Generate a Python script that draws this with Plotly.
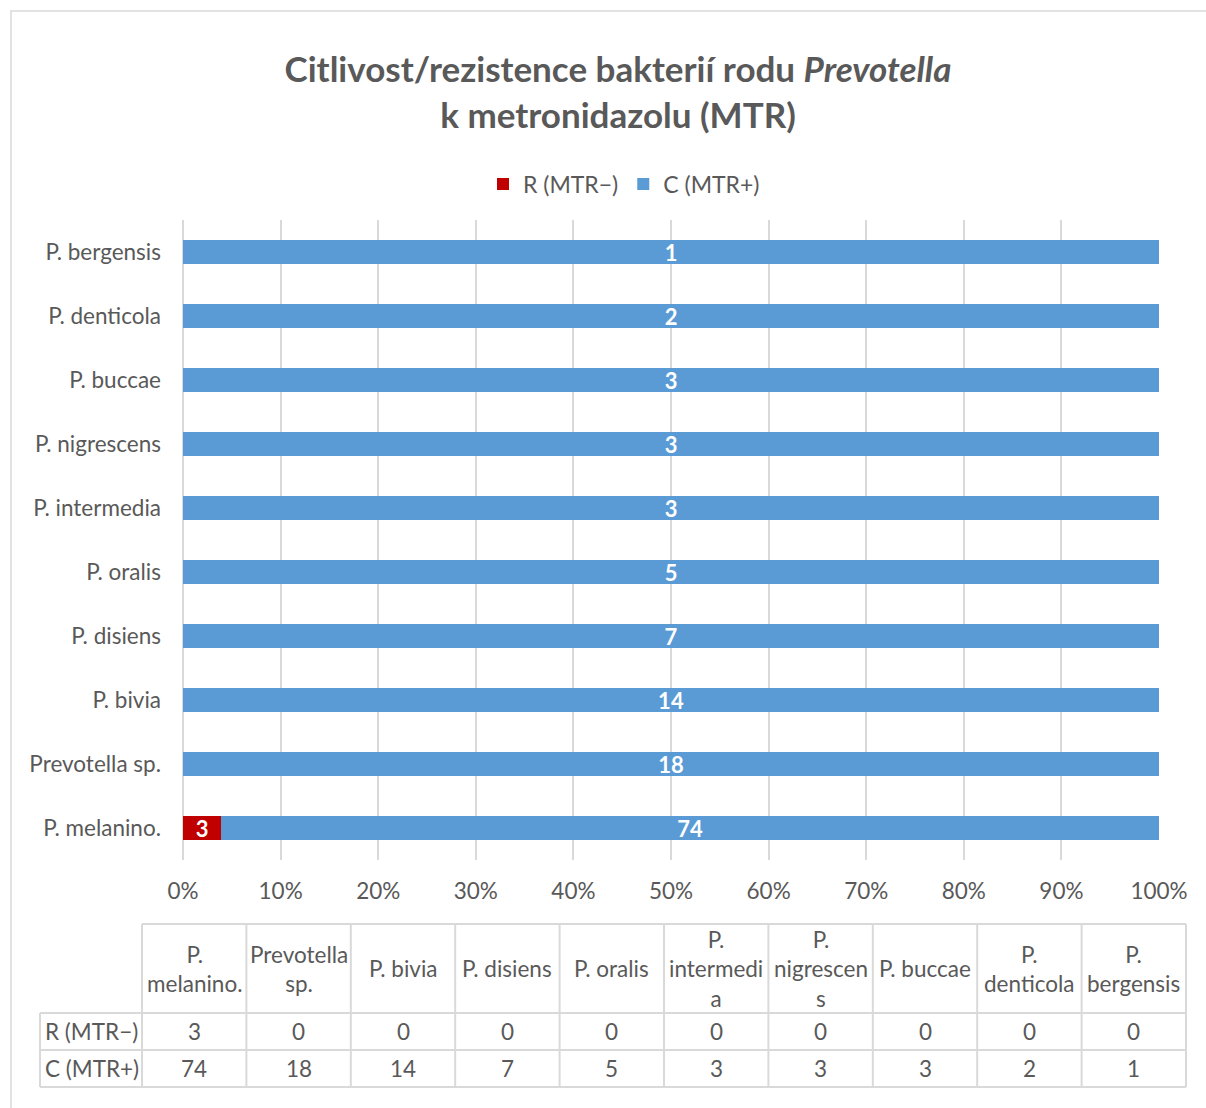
import plotly.graph_objects as go

# Species (bottom to top on the bar chart, left to right in the table)
species = [
    "P. melanino.", "Prevotella sp.", "P. bivia", "P. disiens", "P. oralis",
    "P. intermedia", "P. nigrescens", "P. buccae", "P. denticola", "P. bergensis",
]
# Wrapped column headers for the data table
table_headers = [
    "P.<br>melanino.", "Prevotella<br>sp.", "P. bivia", "P. disiens", "P. oralis",
    "P.<br>intermedi<br>a", "P.<br>nigrescen<br>s", "P. buccae", "P.<br>denticola",
    "P.<br>bergensis",
]
series_names = ["R (MTR\u2212)", "C (MTR+)"]
resistant = [3, 0, 0, 0, 0, 0, 0, 0, 0, 0]
sensitive = [74, 18, 14, 7, 5, 3, 3, 3, 2, 1]
x_ticks = list(range(0, 101, 10))
x_tick_text = [f"{v}%" for v in x_ticks]

W, H = 1206, 1108
FONT = "Lato"
TXT = "#595959"
GRID = "#D9D9D9"
RED = "#C00000"
BLUE = "#5B9BD5"
FS = 22.5


def px(x):
    return x / W


def py(y):
    return 1 - y / H


fig = go.Figure()
label_font = dict(color="white", size=22, family=FONT, weight="bold")
for name, vals, color in zip(series_names, [resistant, sensitive], [RED, BLUE]):
    fig.add_bar(
        y=species, x=vals, orientation="h", name=name,
        marker=dict(color=color, line=dict(width=0)),
        text=[str(v) if v else "" for v in vals],
        textposition="inside", insidetextanchor="middle", textangle=0,
        constraintext="none", cliponaxis=False,
        textfont=label_font, hoverinfo="skip",
    )

# Plot-area geometry (pixels)
PL, PR, PT, PB = 183, 1159, 220, 860

fig.update_layout(
    width=W, height=H, autosize=False,
    margin=dict(l=0, r=0, t=0, b=0),
    paper_bgcolor="white", plot_bgcolor="white",
    template="none",
    barmode="stack", barnorm="percent", bargap=0.61,
    font=dict(family=FONT, color=TXT, size=FS),
    title=dict(
        text="Citlivost/rezistence bakterií rodu <i>Prevotella</i><br>k metronidazolu (MTR)",
        font=dict(family=FONT, size=35, color=TXT, weight="bold"),
        x=px(618), xanchor="center", xref="paper",
        y=py(82), yanchor="middle", yref="container",
    ),
    legend=dict(
        orientation="h", x=px(624), xanchor="center", y=py(184), yanchor="middle",
        font=dict(family=FONT, size=23, color=TXT), traceorder="normal",
        bgcolor="rgba(0,0,0,0)",
    ),
    xaxis=dict(
        domain=[px(PL), px(PR)], range=[0, 100],
        tickmode="array", tickvals=x_ticks, ticktext=x_tick_text,
        showgrid=True, gridcolor=GRID, gridwidth=1.5,
        zeroline=True, zerolinecolor=GRID, zerolinewidth=1.5,
        showline=False, ticks="", ticklabelstandoff=15,
        tickfont=dict(family=FONT, size=FS, color=TXT), automargin=False,
        fixedrange=True,
    ),
    yaxis=dict(
        domain=[py(PB), py(PT)], type="category",
        categoryorder="array", categoryarray=species,
        showgrid=False, zeroline=False, showline=False, ticks="",
        ticklabelstandoff=21,
        tickfont=dict(family=FONT, size=FS, color=TXT), automargin=False,
        fixedrange=True,
    ),
)

shapes = []
# Outer chart border
shapes.append(dict(type="rect", xref="paper", yref="paper",
                   x0=px(11), x1=px(W + 20), y0=py(H + 20), y1=py(11),
                   line=dict(color=GRID, width=1.5), fillcolor="rgba(0,0,0,0)", layer="below"))

# Data table geometry
T_LEFT, T_COL0, T_RIGHT = 40, 142, 1186
T_TOP, T_HEAD, T_ROW1, T_ROW2 = 924, 1013, 1050, 1087
ncol = len(species)
col_w = (T_RIGHT - T_COL0) / ncol
line = dict(color=GRID, width=2)


def hline(y, x0, x1):
    shapes.append(dict(type="line", xref="paper", yref="paper",
                       x0=px(x0), x1=px(x1), y0=py(y), y1=py(y), line=line))


def vline(x, y0, y1):
    shapes.append(dict(type="line", xref="paper", yref="paper",
                       x0=px(x), x1=px(x), y0=py(y0), y1=py(y1), line=line))


hline(T_TOP, T_COL0, T_RIGHT)
for y in (T_HEAD, T_ROW1, T_ROW2):
    hline(y, T_LEFT, T_RIGHT)
vline(T_LEFT, T_HEAD, T_ROW2)
for i in range(ncol + 1):
    vline(T_COL0 + i * col_w, T_TOP, T_ROW2)

annotations = []
cell_font = dict(family=FONT, size=FS, color=TXT)
for i in range(ncol):
    cx = px(T_COL0 + (i + 0.5) * col_w)
    annotations.append(dict(text=table_headers[i], x=cx, y=py((T_TOP + T_HEAD) / 2),
                            xref="paper", yref="paper", showarrow=False,
                            xanchor="center", yanchor="middle", font=cell_font))
    annotations.append(dict(text=str(resistant[i]), x=cx, y=py((T_HEAD + T_ROW1) / 2),
                            xref="paper", yref="paper", showarrow=False,
                            xanchor="center", yanchor="middle", font=cell_font))
    annotations.append(dict(text=str(sensitive[i]), x=cx, y=py((T_ROW1 + T_ROW2) / 2),
                            xref="paper", yref="paper", showarrow=False,
                            xanchor="center", yanchor="middle", font=cell_font))
for name, (y0, y1) in zip(series_names, [(T_HEAD, T_ROW1), (T_ROW1, T_ROW2)]):
    annotations.append(dict(text=name, x=px(T_LEFT + 3), y=py((y0 + y1) / 2),
                            xref="paper", yref="paper", showarrow=False,
                            xanchor="left", yanchor="middle", font=cell_font))

fig.update_layout(shapes=shapes, annotations=annotations)

fig.write_html("out.html", config={"displayModeBar": False})
